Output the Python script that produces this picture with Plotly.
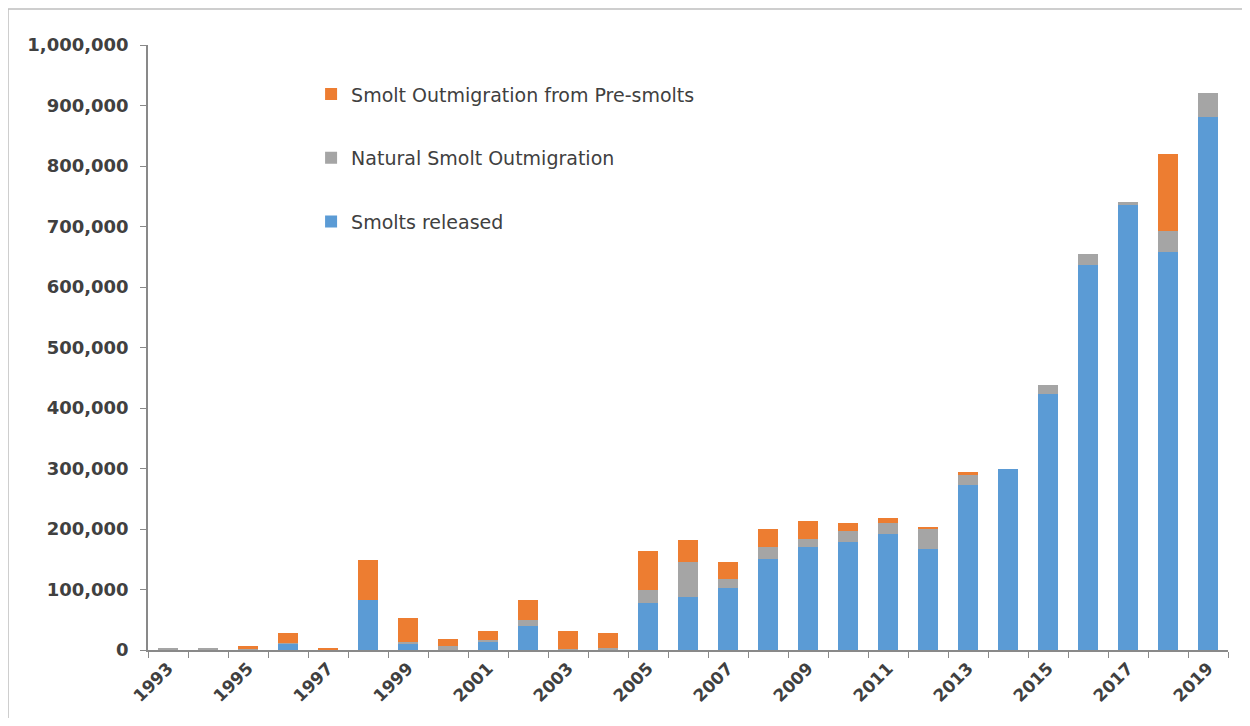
import plotly.graph_objects as go

years = [str(y) for y in range(1993, 2020)]
smolts_released = [0, 0, 0, 10000, 0, 82000, 11000, 0, 14000, 39000, 0, 0, 77000,
                   87000, 102000, 151000, 171000, 178000, 192000, 167000, 272000,
                   300000, 423000, 636000, 735000, 658000, 881000]
natural_smolt = [3000, 3000, 2000, 2000, 0, 0, 2000, 6000, 2000, 10000, 1000, 3000, 23000,
                 59000, 15000, 20000, 12000, 18000, 18000, 34000, 17000,
                 0, 15000, 19000, 5000, 35000, 40000]
pre_smolts = [0, 0, 4000, 16000, 3000, 66000, 40000, 12000, 15000, 34000, 30000, 25000, 63000,
              36000, 28000, 29000, 30000, 14000, 9000, 2000, 5000,
              0, 0, 0, 0, 127000, 0]

tick_labels = [y if int(y) % 2 == 1 else "" for y in years]
y_ticks = list(range(0, 1000001, 100000))

fig = go.Figure()
fig.add_bar(x=years, y=smolts_released, name="Smolts released",
            marker_color="#5B9BD5", legendgroup="a", legendrank=3)
fig.add_bar(x=years, y=natural_smolt, name="Natural Smolt Outmigration",
            marker_color="#A5A5A5", legendgroup="b", legendrank=2)
fig.add_bar(x=years, y=pre_smolts, name="Smolt Outmigration from Pre-smolts",
            marker_color="#ED7D31", legendgroup="c", legendrank=1)

fig.update_traces(marker_line_width=0)

# page has an 8px body margin: figure starts at (8, 8)
fig.update_layout(
    width=1234, height=710,
    barmode="stack", bargap=0.52,
    plot_bgcolor="white", paper_bgcolor="white",
    margin=dict(l=140, r=14, t=37, b=68),
    font=dict(family="DejaVu Sans", color="#404040"),
    legend=dict(x=0.151, y=0.95, xanchor="left", yanchor="top",
                traceorder="grouped", tracegroupgap=36,
                font=dict(size=19, color="#404040", family="DejaVu Sans"),
                itemwidth=30, bgcolor="rgba(0,0,0,0)"),
    showlegend=True,
    xaxis=dict(type="category", tickmode="array", tickvals=years, ticktext=tick_labels,
               tickson="boundaries", ticks="outside", ticklen=6, tickcolor="#898989",
               showline=True, linecolor="#898989", linewidth=1.5,
               tickangle=-45, tickfont=dict(size=17, family="DejaVu Sans", color="#404040", weight="bold"),
               automargin=False, showgrid=False),
    yaxis=dict(range=[0, 1000000], tickvals=y_ticks, tickformat=",d",
               ticks="outside", ticklen=6, tickcolor="#898989", ticklabelstandoff=8,
               showline=True, linecolor="#898989", linewidth=1.5,
               tickfont=dict(size=18, family="DejaVu Sans", color="#404040", weight="bold"),
               showgrid=False, zeroline=False, automargin=False),
)

# outer chart frame
fig.add_shape(type="rect", xref="paper", yref="paper",
              x0=(8 - 148) / 1080, x1=(1244 - 148) / 1080,
              y0=(650 - 722) / 605, y1=(650 - 9) / 605,
              line=dict(color="#BFBFBF", width=1.5), fillcolor="rgba(0,0,0,0)", layer="below")

fig.write_html("out.html")
